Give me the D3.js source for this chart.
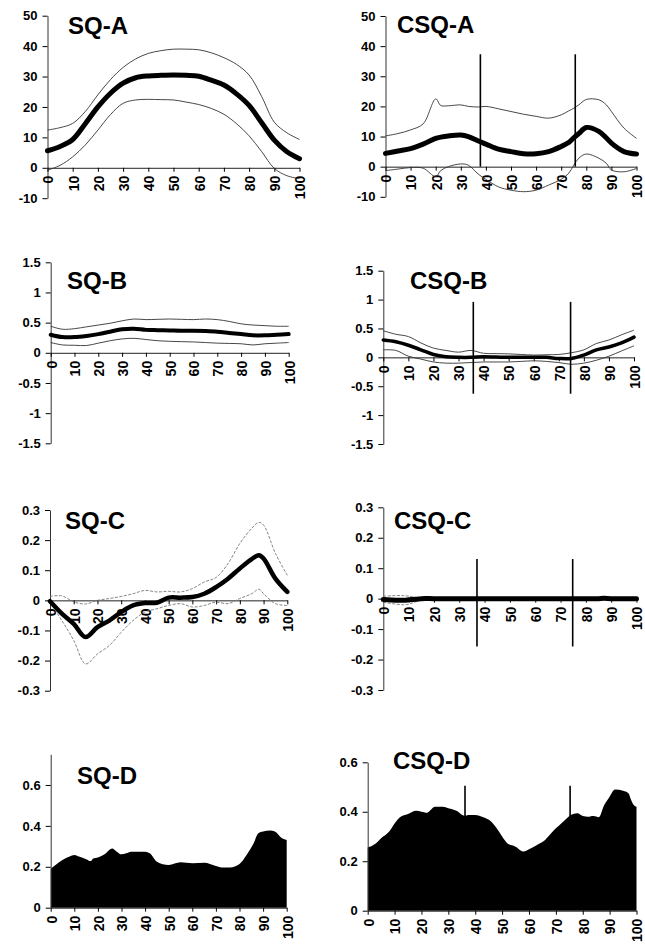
<!DOCTYPE html>
<html><head><meta charset="utf-8">
<script src="https://cdn.jsdelivr.net/npm/d3@7"></script>
<style>
body{margin:0;background:#fff}
svg{display:block}
text{font-family:"Liberation Sans",Arial,Helvetica,sans-serif;font-weight:bold}
</style>
</head><body>
<svg id="c" width="645" height="948"></svg>
<script>
// ---------- tick labels ----------
const xTickValues = [0,10,20,30,40,50,60,70,80,90,100];
const yTicksA = [-10,0,10,20,30,40,50];
const yTicksB = [-1.5,-1,-0.5,0,0.5,1,1.5];
const yTicksC = [-0.3,-0.2,-0.1,0,0.1,0.2,0.3];
const yTicksD = [0,0.2,0.4,0.6];
const titles = ["SQ-A","CSQ-A","SQ-B","CSQ-B","SQ-C","CSQ-C","SQ-D","CSQ-D"];

// ---------- SQ-A ----------
const sqAX     = [0,5,10,15,20,25,30,35,40,45,50,55,60,65,70,75,80,85,90,95,100];
const sqAMean  = [5.6,7,9.3,14.5,20,24.5,27.8,29.6,30.2,30.4,30.5,30.4,30.1,28.8,27.2,24.3,20.5,14.8,9.1,5.3,3.0];
const sqAUpper = [12.4,13.2,14.6,18.5,24,29,33,35.8,37.6,38.5,39,39,38.8,37.8,36.2,34,30.5,23.4,15,11.5,9.3];
const sqALower = [-0.8,0.8,3.6,7.5,12.4,17.5,21.2,22.3,22.5,22.4,22.3,21.6,20.8,19.5,17.6,14.5,10.5,5.3,-0.2,-2.6,-3.6];

// ---------- CSQ-A ----------
const csqAX     = [0,5,10,15,20,22,25,30,33,37,40,45,50,55,60,65,70,73,75,77,80,85,88,90,95,100];
const csqAMean  = [4.4,5.2,6,7.5,9.4,9.8,10.2,10.5,10,8.5,7.5,5.8,5,4.3,4.3,5,6.7,8,9.6,11,13,11.7,9.5,7.8,5,4.2];
const csqAUpper = [10.2,11,12.2,14.2,22.5,20.3,20.2,20.5,20,19.8,20,19.2,18.3,17.4,16.7,16.1,17.2,18.5,19.4,20.5,22.3,22.2,20.5,18.3,12.8,9.4];
const csqALower = [-1.3,-0.8,-0.3,-0.5,-3.3,-1.3,0,0.9,0.5,-2.5,-4.2,-6.7,-7.8,-8.3,-7.8,-6.1,-4.2,-2.2,0.5,2.8,4.2,2.8,1.1,-1.1,-1.7,-0.6];
const csqAEvents = [37.8,75.6];
const csqAEventSpan = [0,37.3];

// ---------- SQ-B ----------
const sqBX     = [0,5,10,15,20,25,30,35,40,45,50,55,60,65,70,75,80,85,90,95,100];
const sqBMean  = [0.30,0.26,0.26,0.28,0.31,0.35,0.39,0.40,0.38,0.375,0.37,0.365,0.365,0.36,0.35,0.33,0.31,0.29,0.29,0.30,0.31];
const sqBUpper = [0.44,0.39,0.40,0.43,0.46,0.49,0.53,0.56,0.55,0.555,0.56,0.555,0.55,0.56,0.55,0.52,0.48,0.46,0.45,0.44,0.44];
const sqBLower = [0.17,0.13,0.125,0.12,0.16,0.20,0.23,0.24,0.22,0.20,0.19,0.185,0.18,0.17,0.16,0.155,0.15,0.13,0.15,0.16,0.17];

// ---------- CSQ-B ----------
const csqBX     = [0,5,10,15,20,25,30,35,40,45,50,55,60,65,70,75,80,85,90,95,100];
const csqBMean  = [0.30,0.27,0.21,0.13,0.05,0.01,0,0,0.01,0.005,0,0,0,0,-0.02,-0.02,0.04,0.13,0.18,0.25,0.35];
const csqBUpper = [0.46,0.40,0.36,0.25,0.16,0.12,0.09,0.12,0.07,0.065,0.06,0.05,0.04,0.045,0.05,0.08,0.13,0.24,0.30,0.39,0.47];
const csqBLower = [0.13,0.12,0.02,-0.03,-0.08,-0.10,-0.10,-0.09,-0.08,-0.08,-0.08,-0.07,-0.06,-0.07,-0.09,-0.12,-0.10,-0.05,0.02,0.11,0.20];
const csqBEvents = [35.9,74.7];
const csqBEventSpan = [-0.63,0.96];

// ---------- SQ-C ----------
const sqCX     = [0,5,10,15,20,25,30,35,40,45,50,55,60,65,70,75,80,85,88,90,95,100];
const sqCMean  = [-0.003,-0.044,-0.078,-0.122,-0.089,-0.067,-0.039,-0.017,-0.009,-0.008,0.009,0.009,0.011,0.022,0.044,0.072,0.106,0.137,0.15,0.139,0.072,0.028];
const sqCUpper = [0.013,0.015,-0.005,-0.012,0.0,0.006,0.013,0.022,0.033,0.028,0.030,0.028,0.039,0.061,0.076,0.122,0.189,0.239,0.259,0.25,0.156,0.083];
const sqCLower = [-0.006,-0.067,-0.133,-0.211,-0.178,-0.15,-0.106,-0.067,-0.039,-0.028,-0.017,-0.011,-0.022,-0.017,-0.006,-0.011,0.006,0.022,0.037,0.022,-0.011,-0.017];

// ---------- CSQ-C ----------
const csqCX     = [0,5,8,10,13,15,20,30,40,50,60,70,80,85,87,90,95,100];
const csqCMean  = [-0.003,-0.005,-0.005,-0.004,-0.002,0,0,0,0,0,0,0,0,0,0.001,0,0,0];
const csqCUpper = [0.008,0.01,0.01,0.008,0.004,0.002,0.001,0.001,0.001,0.001,0.001,0.001,0.001,0.002,0.004,0.002,0.001,0.001];
const csqCLower = [-0.012,-0.018,-0.02,-0.018,-0.01,-0.004,-0.001,-0.001,-0.001,-0.001,-0.001,-0.001,-0.001,-0.001,0,-0.001,-0.001,-0.001];
const csqCEvents = [37.0,74.8];
const csqCEventSpan = [-0.157,0.13];

// ---------- SQ-D ----------
const sqDX   = [0,3,5,8,10,12,15,17,18,20,23,26,28,30,32,34,40,42,45,50,55,60,65,70,73,76,80,83,86,88,90,93,95,98,100];
const sqDVal = [0.19,0.217,0.233,0.25,0.258,0.25,0.237,0.228,0.24,0.246,0.263,0.29,0.274,0.261,0.266,0.274,0.274,0.266,0.225,0.209,0.222,0.217,0.22,0.204,0.196,0.197,0.214,0.258,0.315,0.364,0.372,0.377,0.372,0.339,0.331];

// ---------- CSQ-D ----------
const csqDX   = [0,3,5,8,10,12,15,18,20,22,25,28,30,33,36,38,40,43,46,48,50,52,55,58,60,63,66,68,70,72,74,75,78,80,82,84,86,88,90,92,95,97,98,99,100];
const csqDVal = [0.256,0.272,0.293,0.32,0.353,0.378,0.391,0.404,0.40,0.396,0.42,0.42,0.414,0.404,0.384,0.387,0.387,0.378,0.36,0.333,0.30,0.272,0.259,0.239,0.248,0.266,0.286,0.31,0.333,0.353,0.373,0.383,0.394,0.383,0.38,0.383,0.378,0.427,0.461,0.49,0.485,0.475,0.448,0.427,0.42];
const csqDEvents = [36.2,75.3];
const csqDEventSpan = [0.3,0.505];

// ---------- layout ----------
const panels = [
  {title:titles[0], x0:47.5, x1:299.5, yDomain:[-10,50], yRange:[198.2,15.7], yTicks:yTicksA, tx:68, ty:34,
   xs:sqAX, mean:sqAMean, upper:sqAUpper, lower:sqALower, meanW:5},
  {title:titles[1], x0:385.5, x1:636.5, yDomain:[-10,50], yRange:[196.8,16], yTicks:yTicksA, tx:397, ty:33,
   xs:csqAX, mean:csqAMean, upper:csqAUpper, lower:csqALower, meanW:5, events:csqAEvents, span:csqAEventSpan},
  {title:titles[2], x0:50.7, x1:288.7, yDomain:[-1.5,1.5], yRange:[443.3,262.3], yTicks:yTicksB, tx:67, ty:289,
   xs:sqBX, mean:sqBMean, upper:sqBUpper, lower:sqBLower, meanW:4},
  {title:titles[3], x0:383.3, x1:634, yDomain:[-1.5,1.5], yRange:[444,270.7], yTicks:yTicksB, tx:410, ty:289,
   xs:csqBX, mean:csqBMean, upper:csqBUpper, lower:csqBLower, meanW:3.5, events:csqBEvents, span:csqBEventSpan},
  {title:titles[4], x0:50, x1:287.3, yDomain:[-0.3,0.3], yRange:[690.7,510], yTicks:yTicksC, tx:65, ty:529,
   xs:sqCX, mean:sqCMean, upper:sqCUpper, lower:sqCLower, meanW:4.5, dashed:true},
  {title:titles[5], x0:383.3, x1:636.5, yDomain:[-0.3,0.3], yRange:[690,507.3], yTicks:yTicksC, tx:394, ty:529,
   xs:csqCX, mean:csqCMean, upper:csqCUpper, lower:csqCLower, meanW:5, dashed:true, events:csqCEvents, span:csqCEventSpan},
  {title:titles[6], x0:50.7, x1:286.7, yDomain:[0,0.75], yRange:[907.7,754.3], yTicks:yTicksD, tx:77, ty:784,
   xs:sqDX, area:sqDVal},
  {title:titles[7], x0:367.7, x1:636.5, yDomain:[0,0.6], yRange:[910.7,762.3], yTicks:yTicksD, tx:393, ty:769,
   xs:csqDX, area:csqDVal, events:csqDEvents, span:csqDEventSpan}
];

const svg = d3.select('#c');

function drawPanel(p){
  const x = d3.scaleLinear().domain([0,100]).range([p.x0,p.x1]);
  const y = d3.scaleLinear().domain(p.yDomain).range(p.yRange);
  const g = svg.append('g');

  if (p.area){
    const area = d3.area().x(d=>x(d[0])).y0(y(0)).y1(d=>y(d[1])).curve(d3.curveMonotoneX);
    g.append('path').datum(d3.zip(p.xs,p.area)).attr('d',area).attr('fill','#000');
  }

  const ya = g.append('g').attr('transform',`translate(${p.x0},0)`)
    .call(d3.axisLeft(y).tickValues(p.yTicks).tickFormat(d=>String(d)).tickSize(5).tickSizeOuter(0).tickPadding(5));
  ya.selectAll('text').attr('font-size',13).attr('font-family','"Liberation Sans",Arial,sans-serif').attr('font-weight','bold').attr('fill','#000');
  ya.select('.domain').attr('stroke','#333');

  const xa = g.append('g').attr('transform',`translate(0,${y(0)})`)
    .call(d3.axisBottom(x).tickValues(xTickValues).tickSize(4).tickSizeOuter(0));
  xa.select('.domain').attr('stroke','#222');
  xa.selectAll('text')
    .attr('transform','rotate(-90)')
    .attr('text-anchor','end')
    .attr('x',-8).attr('y',0).attr('dy','0.38em')
    .attr('font-size',14).attr('font-family','"Liberation Sans",Arial,sans-serif').attr('font-weight','bold').attr('fill','#000');

  if (p.mean){
    const line = d3.line().x(d=>x(d[0])).y(d=>y(d[1])).curve(d3.curveCatmullRom);
    [p.upper,p.lower].forEach(s=>{
      g.append('path').datum(d3.zip(p.xs,s)).attr('d',line)
        .attr('fill','none')
        .attr('stroke',p.dashed?'#777':'#333')
        .attr('stroke-width',0.9)
        .attr('stroke-dasharray',p.dashed?'3,1.5':null);
    });
    g.append('path').datum(d3.zip(p.xs,p.mean)).attr('d',line)
      .attr('fill','none').attr('stroke','#000').attr('stroke-width',p.meanW)
      .attr('stroke-linecap','round').attr('stroke-linejoin','round');
  }

  if (p.events){
    g.selectAll('line.ev').data(p.events).enter().append('line')
      .attr('x1',d=>x(d)).attr('x2',d=>x(d))
      .attr('y1',y(p.span[1])).attr('y2',y(p.span[0]))
      .attr('stroke','#000').attr('stroke-width',1.6);
  }

  g.append('text').attr('x',p.tx).attr('y',p.ty).attr('font-size',24)
    .attr('font-weight','bold').attr('fill','#000').text(p.title);
}

panels.forEach(drawPanel);
</script>
</body></html>
